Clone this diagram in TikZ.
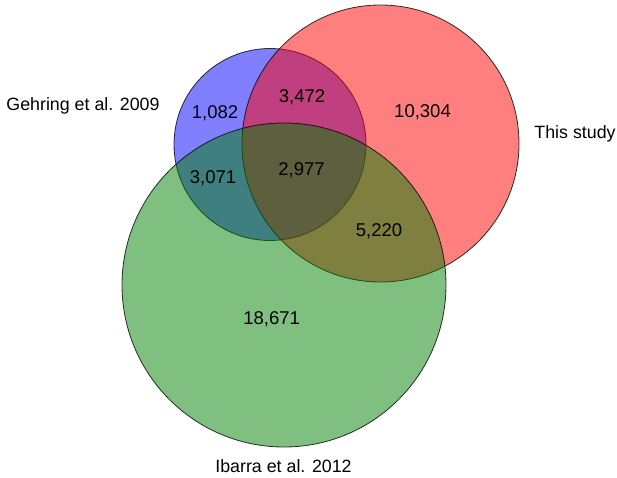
\documentclass[tikz,border=0pt]{standalone}
\usepackage{fontspec}
\setmainfont{Liberation Sans}
\definecolor{cblue}{RGB}{0,0,255}
\definecolor{cred}{RGB}{255,0,0}
\definecolor{cgreen}{RGB}{0,128,0}
\begin{document}
\begin{tikzpicture}[x=1pt,y=-1pt,
  setc/.style={circle, inner sep=0pt, draw=black, draw opacity=0.8, line width=0.8pt, fill opacity=0.5},
  num/.style={anchor=base, font=\fontsize{18.5}{20}\selectfont, inner sep=0pt},
  lab/.style={anchor=base, font=\fontsize{17.8}{20}\selectfont, inner sep=0pt}]
\useasboundingbox (0,0) rectangle (617,477);
\node[setc, fill=cblue, minimum size=192pt] (gehring) at (270,144.5) {};
\node[setc, fill=cred, minimum size=277pt] (this) at (380.5,143.5) {};
\node[setc, fill=cgreen, minimum size=324pt] (ibarra) at (284,285) {};
\node[num] (n1) at (215,118) {1,082};
\node[num] (n2) at (302,102.5) {3,472};
\node[num] (n3) at (422.5,117) {10,304};
\node[num] (n4) at (213,183) {3,071};
\node[num] (n5) at (301.5,175) {2,977};
\node[num] (n6) at (379,236.5) {5,220};
\node[num] (n7) at (271.7,324) {18,671};
\node[lab] (l1) at (83,110.5) {Gehring et al. 2009};
\node[lab] (l2) at (575,138) {This study};
\node[lab] (l3) at (283.5,472) {Ibarra et al. 2012};
\end{tikzpicture}
\end{document}
